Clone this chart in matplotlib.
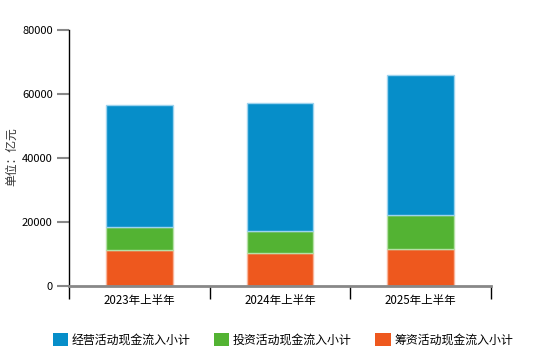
import numpy as np
import matplotlib.pyplot as plt
from matplotlib.patches import Patch

plt.rcParams['font.family'] = ['Noto Sans CJK SC', 'DejaVu Sans']

periods = ['2023年上半年', '2024年上半年', '2025年上半年']
series_names = ['经营活动现金流入小计', '投资活动现金流入小计', '筹资活动现金流入小计']
operating = [37970, 39740, 43590]
investing = [7270, 6960, 10700]
financing = [11140, 10300, 11450]

colors = ['#068ec9', '#53b333', '#ee581e']
edges = ['#9dd3ee', '#b5e0a6', '#f8b49a']

fig = plt.figure(figsize=(5.6, 3.46), dpi=100)
ax = fig.add_axes([0.1238, 0.1734, 0.7524, 0.7411])

x = np.arange(len(periods))
w = 0.476
fin = np.array(financing)
inv = np.array(investing)
op = np.array(operating)
ax.bar(x, fin, w, color=colors[2], edgecolor=edges[2], linewidth=1, zorder=2)
ax.bar(x, inv, w, bottom=fin, color=colors[1], edgecolor=edges[1], linewidth=1, zorder=2)
ax.bar(x, op, w, bottom=fin + inv, color=colors[0], edgecolor=edges[0], linewidth=1, zorder=2)

ax.set_xlim(-0.5, 2.5)
ax.set_ylim(0, 80000)
ax.set_yticks([0, 20000, 40000, 60000, 80000])
ax.tick_params(axis='y', length=9, width=1.5, color='#888888', labelsize=8, pad=3)

# category labels in the middle, tick marks on the borders between categories
ax.set_xticks(x)
ax.set_xticklabels(periods, fontsize=8.3)
ax.tick_params(axis='x', which='major', length=0, pad=6)
ax.set_xticks([-0.5, 0.5, 1.5, 2.5], minor=True)
ax.tick_params(axis='x', which='minor', length=9, width=1, color='black', direction='out')

for s in ['top', 'right']:
    ax.spines[s].set_visible(False)
ax.spines['left'].set_color('black')
ax.spines['left'].set_linewidth(1)
ax.spines['bottom'].set_color('#888888')
ax.spines['bottom'].set_linewidth(2)

fig.text(12 / 560, 1 - 157 / 346, '单位：亿元', rotation=90, fontsize=8.5,
         ha='center', va='center', color='#333333')

handles = [Patch(facecolor=c, edgecolor='none') for c in colors]
fig.legend(handles, series_names, loc='center', bbox_to_anchor=(0.505, 1 - 340 / 346),
           ncol=3, frameon=False, fontsize=8.6, handlelength=1.27, handleheight=1.27,
           handletextpad=0.3, columnspacing=2.0, borderaxespad=0)

fig.savefig('out.png', dpi=100)
